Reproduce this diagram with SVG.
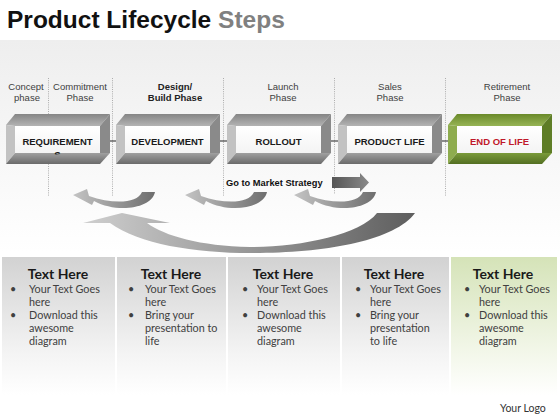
<svg xmlns="http://www.w3.org/2000/svg" xmlns:xlink="http://www.w3.org/1999/xlink" width="560" height="420" viewBox="0 0 560 420">
<style>
.title{font-family:"Liberation Sans",Arial,sans-serif;font-weight:bold;font-size:24.5px;fill:#111}
.phase{font-family:"Liberation Sans",Arial,sans-serif;font-size:9.5px;fill:#404040;text-anchor:middle}
.phaseb{font-family:"Liberation Sans",Arial,sans-serif;font-size:9.5px;font-weight:bold;fill:#222;text-anchor:middle}
.btxt{font-family:"Liberation Sans",Arial,sans-serif;font-size:9.5px;font-weight:bold;fill:#1a1a1a;text-anchor:middle}
.gtm{font-family:"Liberation Sans",Arial,sans-serif;font-size:9.3px;font-weight:bold;fill:#111}
.dot{stroke:#9a9a9a;stroke-width:0.8;stroke-dasharray:1 1.2;fill:none}
.dash{stroke:#222;stroke-width:1;fill:none}
.ph{font-family:Lato,"Open Sans",sans-serif;font-weight:bold;font-size:14px;fill:#1a1a1a;text-anchor:middle}
.pt{font-family:Lato,"Open Sans",sans-serif;font-size:10.8px;fill:#404040}
.logo{font-family:Lato,"Open Sans",sans-serif;font-size:10.5px;fill:#333}
</style>
<defs>
<linearGradient id="bg" x1="0" y1="0" x2="0" y2="1"><stop offset="0" stop-color="#eeeeee"/><stop offset="1" stop-color="#ffffff"/></linearGradient>
<linearGradient id="pg" x1="0" y1="0" x2="0" y2="1"><stop offset="0" stop-color="#d2d2d2"/><stop offset="0.7" stop-color="#f4f4f4"/><stop offset="1" stop-color="#ffffff"/></linearGradient>
<linearGradient id="pgg" x1="0" y1="0" x2="0" y2="1"><stop offset="0" stop-color="#d5e3b8"/><stop offset="0.7" stop-color="#f3f7ea"/><stop offset="1" stop-color="#ffffff"/></linearGradient>
<linearGradient id="gt" x1="0" y1="0" x2="0" y2="1"><stop offset="0" stop-color="#858585"/><stop offset="1" stop-color="#b3b3b3"/></linearGradient>
<linearGradient id="gb" x1="0" y1="0" x2="0" y2="1"><stop offset="0" stop-color="#a0a0a0"/><stop offset="1" stop-color="#6a6a6a"/></linearGradient>
<linearGradient id="vt" x1="0" y1="0" x2="0" y2="1"><stop offset="0" stop-color="#6a8a2a"/><stop offset="1" stop-color="#96b455"/></linearGradient>
<linearGradient id="vb" x1="0" y1="0" x2="0" y2="1"><stop offset="0" stop-color="#7a9a3a"/><stop offset="1" stop-color="#536f22"/></linearGradient>
<linearGradient id="inner" x1="0" y1="0" x2="0" y2="1"><stop offset="0" stop-color="#ffffff"/><stop offset="1" stop-color="#f4f4f4"/></linearGradient>
<linearGradient id="ca" x1="0" y1="0" x2="1" y2="0"><stop offset="0" stop-color="#c4c4c4"/><stop offset="1" stop-color="#6e6e6e"/></linearGradient>
<linearGradient id="ba" x1="0" y1="0" x2="1" y2="0"><stop offset="0" stop-color="#cfcfcf"/><stop offset="1" stop-color="#5e5e5e"/></linearGradient>
<linearGradient id="ga" x1="0" y1="0" x2="1" y2="0"><stop offset="0" stop-color="#555555"/><stop offset="1" stop-color="#8a8a8a"/></linearGradient>
<clipPath id="clipS"><rect x="15" y="126" width="85" height="28.5"/></clipPath>
<g id="boxGray">
<polygon points="6,125 15,114 110,114 100,126 15,126" fill="url(#gt)"/>
<polygon points="6,125 15,126 15,153 6,164" fill="#c2c2c2"/>
<polygon points="110,114 110,153 100,153 100,126" fill="#8a8a8a"/>
<polygon points="6,164 15,153 110,153 100,164" fill="url(#gb)"/>
<rect x="15" y="126" width="85" height="27" fill="url(#inner)"/>
</g>
<g id="boxGreen">
<polygon points="6,125 15,114 110,114 100,126 15,126" fill="url(#vt)"/>
<polygon points="6,125 15,126 15,153 6,164" fill="#8eac4e"/>
<polygon points="110,114 110,153 100,153 100,126" fill="#5e7d26"/>
<polygon points="6,164 15,153 110,153 100,164" fill="url(#vb)"/>
<rect x="15" y="126" width="85" height="27" fill="url(#inner)"/>
</g>
<path id="smallArrow" d="M142,192 L155,192 C152,208 118,214 94,201 L92,205 L73,195 L87,189 L89,196 C112,204 137,204 142,192 Z" fill="url(#ca)"/>
</defs>

<rect x="0" y="0" width="560" height="420" fill="#ffffff"/>
<rect x="0" y="40" width="560" height="212" fill="url(#bg)"/>

<text class="title" x="7" y="28">Product Lifecycle <tspan fill="#808080">Steps</tspan></text>

<g id="phase-lines">
<line class="dot" x1="48.5" y1="78" x2="48.5" y2="196"/>
<line class="dot" x1="112.5" y1="78" x2="112.5" y2="196"/>
<line class="dot" x1="223.5" y1="78" x2="223.5" y2="196"/>
<line class="dot" x1="334.5" y1="78" x2="334.5" y2="194"/>
<line class="dot" x1="445.5" y1="78" x2="445.5" y2="196"/>
</g>

<g id="phase-labels">
<text class="phase" x="26" y="90">Concept</text>
<text class="phase" x="27" y="101">phase</text>
<text class="phase" x="80" y="90">Commitment</text>
<text class="phase" x="80" y="101">Phase</text>
<text class="phaseb" x="175" y="90">Design/</text>
<text class="phaseb" x="175" y="101">Build Phase</text>
<text class="phase" x="283" y="90">Launch</text>
<text class="phase" x="283" y="101">Phase</text>
<text class="phase" x="390" y="90">Sales</text>
<text class="phase" x="390" y="101">Phase</text>
<text class="phase" x="507" y="90">Retirement</text>
<text class="phase" x="507" y="101">Phase</text>
</g>

<g id="connectors">
<line class="dash" x1="110" y1="141" x2="116" y2="141"/>
<line class="dash" x1="220" y1="141" x2="227" y2="141"/>
<line class="dash" x1="331" y1="141" x2="338" y2="141"/>
<line class="dash" x1="442" y1="141" x2="448" y2="141"/>
<use href="#smallArrow"/>
<use href="#smallArrow" x="112"/>
<use href="#smallArrow" x="221"/>
<path d="M415,213 L377,213 C360,235 300,247 250,247 C200,246 165,236 147,223 L170,223 L122,213 L83,223 L110,223 C140,245 200,254 260,253 C330,252 395,240 415,213 Z" fill="url(#ba)"/>
<path d="M332,177 L360,177 L360,173 L369,182.5 L360,192 L360,188 L332,188 Z" fill="url(#ga)"/>
</g>

<g id="node-requirements">
<use href="#boxGray"/>
<text class="btxt" x="57.5" y="145">REQUIREMENT</text>
<text class="btxt" x="57.5" y="158" clip-path="url(#clipS)">S</text>
</g>
<g id="node-development">
<use href="#boxGray" x="110"/>
<text class="btxt" x="167.5" y="145">DEVELOPMENT</text>
</g>
<g id="node-rollout">
<use href="#boxGray" x="221"/>
<text class="btxt" x="278.5" y="145">ROLLOUT</text>
</g>
<g id="node-productlife">
<use href="#boxGray" x="332"/>
<text class="btxt" x="389.5" y="145">PRODUCT LIFE</text>
</g>
<g id="node-endoflife">
<use href="#boxGreen" x="442"/>
<text class="btxt" x="499.5" y="145" style="fill:#c0182a">END OF LIFE</text>
</g>

<text class="gtm" x="226" y="186">Go to Market Strategy</text>

<g id="panel-1">
<rect x="2" y="257" width="113" height="138" fill="url(#pg)"/>
<text class="ph" x="58" y="279">Text Here</text>
<text class="pt" x="10" y="293">•</text>
<text class="pt" x="29" y="293">Your Text Goes</text>
<text class="pt" x="29" y="306">here</text>
<text class="pt" x="10" y="319">•</text>
<text class="pt" x="29" y="319">Download this</text>
<text class="pt" x="29" y="332">awesome</text>
<text class="pt" x="29" y="345">diagram</text>
</g>
<g id="panel-2">
<rect x="117" y="257" width="109" height="138" fill="url(#pg)"/>
<text class="ph" x="171" y="279">Text Here</text>
<text class="pt" x="128" y="293">•</text>
<text class="pt" x="145" y="293">Your Text Goes</text>
<text class="pt" x="145" y="306">here</text>
<text class="pt" x="128" y="319">•</text>
<text class="pt" x="145" y="319">Bring your</text>
<text class="pt" x="145" y="332">presentation to</text>
<text class="pt" x="145" y="345">life</text>
</g>
<g id="panel-3">
<rect x="228" y="257" width="112" height="138" fill="url(#pg)"/>
<text class="ph" x="283" y="279">Text Here</text>
<text class="pt" x="242" y="293">•</text>
<text class="pt" x="257" y="293">Your Text Goes</text>
<text class="pt" x="257" y="306">here</text>
<text class="pt" x="242" y="319">•</text>
<text class="pt" x="257" y="319">Download this</text>
<text class="pt" x="257" y="332">awesome</text>
<text class="pt" x="257" y="345">diagram</text>
</g>
<g id="panel-4">
<rect x="342" y="257" width="107" height="138" fill="url(#pg)"/>
<text class="ph" x="394" y="279">Text Here</text>
<text class="pt" x="355" y="293">•</text>
<text class="pt" x="370" y="293">Your Text Goes</text>
<text class="pt" x="370" y="306">here</text>
<text class="pt" x="355" y="319">•</text>
<text class="pt" x="370" y="319">Bring your</text>
<text class="pt" x="370" y="332">presentation</text>
<text class="pt" x="370" y="345">to life</text>
</g>
<g id="panel-5">
<rect x="451" y="257" width="106" height="138" fill="url(#pgg)"/>
<text class="ph" x="503" y="279">Text Here</text>
<text class="pt" x="464" y="293">•</text>
<text class="pt" x="479" y="293">Your Text Goes</text>
<text class="pt" x="479" y="306">here</text>
<text class="pt" x="464" y="319">•</text>
<text class="pt" x="479" y="319">Download this</text>
<text class="pt" x="479" y="332">awesome</text>
<text class="pt" x="479" y="345">diagram</text>
</g>

<text class="logo" x="500" y="412">Your Logo</text>
</svg>
